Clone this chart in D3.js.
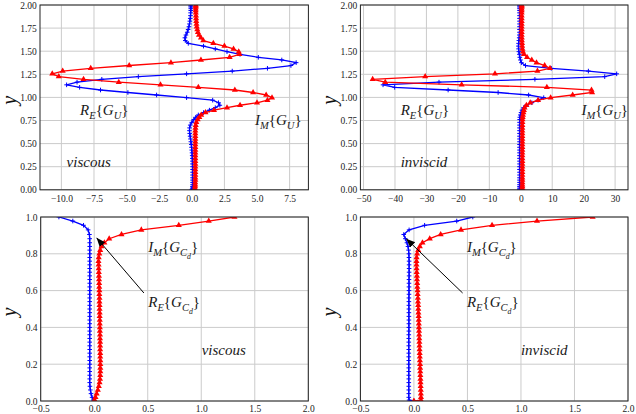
<!DOCTYPE html>
<html><head><meta charset="utf-8">
<script src="https://cdn.jsdelivr.net/npm/d3@7"></script>
<style>
body{margin:0;background:#fff}
svg text{font-family:"Liberation Serif",serif;}
</style>
</head><body>
<svg id="c" width="636" height="414"></svg>
<script>
// ---------- data ----------
// wall-normal grid, top row (y in [0,2])
const yTop = [0, 0.006, 0.018, 0.035, 0.055, 0.08, 0.105, 0.13, 0.16, 0.19,
  0.22, 0.25, 0.28, 0.31, 0.34, 0.37, 0.4, 0.43, 0.46, 0.49,
  0.52, 0.55, 0.58, 0.61, 0.64, 0.67, 0.7, 0.73, 0.76, 0.785,
  0.81, 0.836, 0.862, 0.889, 0.915, 0.942, 0.97, 0.997, 1.026, 1.053,
  1.08, 1.109, 1.136, 1.165, 1.196, 1.225, 1.255, 1.285, 1.315, 1.345,
  1.376, 1.405, 1.434, 1.466, 1.495, 1.525, 1.555, 1.585, 1.615, 1.645,
  1.675, 1.705, 1.735, 1.765, 1.795, 1.825, 1.855, 1.885, 1.915, 1.94,
  1.96, 1.978, 1.99, 2.0];
// viscous R_E{G_U}
const viscousReGU = [0.0, 0.02, 0.04, 0.05, 0.06, 0.06, 0.06, 0.06, 0.06, 0.06,
  0.06, 0.06, 0.05, 0.05, 0.04, 0.03, 0.02, 0.0, -0.02, -0.04,
  -0.07, -0.1, -0.13, -0.16, -0.18, -0.17, -0.12, 0.0, 0.15, 0.3,
  0.5, 0.9, 1.35, 1.8, 2.15, 2.05, 1.6, -0.4, -2.7, -4.9,
  -7.0, -8.6, -9.6, -8.8, -6.9, -4.1, -0.4, 3.1, 5.8, 7.6,
  8.0, 6.9, 5.1, 3.7, 2.7, 1.8, 0.9, -0.27, -0.5, -0.53,
  -0.45, -0.35, -0.28, -0.22, -0.18, -0.15, -0.12, -0.1, -0.09, -0.08,
  -0.08, -0.08, -0.08, -0.08];
// viscous I_M{G_U}
const viscousImGU = [0.2, 0.22, 0.24, 0.25, 0.26, 0.26, 0.27, 0.27, 0.27, 0.27,
  0.27, 0.27, 0.27, 0.27, 0.27, 0.27, 0.27, 0.27, 0.27, 0.27,
  0.27, 0.27, 0.27, 0.27, 0.27, 0.28, 0.3, 0.35, 0.45, 0.58,
  0.72, 1.05, 1.7, 2.7, 3.7, 5.0, 5.8, 6.15, 5.7, 4.7,
  3.3, 0.5, -2.4, -5.6, -8.3, -10.2, -10.7, -9.9, -7.75, -4.8,
  -1.6, 0.7, 2.9, 3.65, 3.6, 3.2, 2.5, 1.65, 0.88, 0.7,
  0.55, 0.47, 0.42, 0.38, 0.36, 0.34, 0.33, 0.32, 0.31, 0.3,
  0.3, 0.3, 0.3, 0.3];
// inviscid R_E{G_U}
const inviscidReGU = [-0.45, -0.42, -0.4, -0.4, -0.4, -0.4, -0.4, -0.4, -0.4, -0.4,
  -0.4, -0.4, -0.4, -0.4, -0.4, -0.4, -0.4, -0.4, -0.4, -0.4,
  -0.4, -0.4, -0.4, -0.4, -0.4, -0.4, -0.4, -0.38, -0.35, -0.3,
  -0.15, 0.1, 0.4, 0.9, 1.8, 3.5, 5.5, 7.3, 2.5, -7.2,
  -23.1, -40.1, -43.8, -26.0, 4.5, 26.7, 30.5, 21.5, 9.7, 1.5,
  0.2, -0.1, -0.3, -0.45, -0.6, -0.7, -0.75, -0.7, -0.6, -0.5,
  -0.45, -0.4, -0.4, -0.4, -0.4, -0.4, -0.4, -0.4, -0.4, -0.4,
  -0.4, -0.4, -0.4, -0.4];
// inviscid I_M{G_U}
const inviscidImGU = [0.45, 0.5, 0.5, 0.5, 0.5, 0.5, 0.5, 0.5, 0.5, 0.5,
  0.5, 0.5, 0.5, 0.5, 0.5, 0.5, 0.5, 0.5, 0.5, 0.5,
  0.5, 0.5, 0.5, 0.5, 0.5, 0.5, 0.5, 0.52, 0.55, 0.6,
  0.7, 0.85, 1.0, 1.2, 1.8, 3.0, 5.5, 9.5, 16.5, 22.7,
  22.5, 8.3, -18.8, -43.1, -47.1, -30.4, -8.2, 5.3, 9.3, 7.6,
  5.0, 3.5, 2.0, 1.0, 0.7, 0.55, 0.45, 0.4, 0.35, 0.33,
  0.3, 0.3, 0.3, 0.3, 0.3, 0.3, 0.3, 0.3, 0.3, 0.3,
  0.3, 0.3, 0.3, 0.3];

// wall-normal grid, bottom row (y in [0,1])
const yBot = [0, 0.005, 0.02, 0.04, 0.06, 0.08, 0.1, 0.12, 0.14, 0.16,
  0.18, 0.2, 0.22, 0.24, 0.26, 0.28, 0.3, 0.32, 0.34, 0.36,
  0.38, 0.4, 0.42, 0.44, 0.46, 0.48, 0.5, 0.52, 0.54, 0.56,
  0.58, 0.6, 0.62, 0.64, 0.66, 0.68, 0.7, 0.72, 0.74, 0.76,
  0.78, 0.8, 0.82, 0.84, 0.86, 0.882, 0.905, 0.93, 0.955, 0.978,
  1.0];
// viscous R_E{G_Cd}
const viscousReGCd = [0.0, -0.008, -0.02, -0.03, -0.036, -0.04, -0.042, -0.042, -0.042, -0.042,
  -0.042, -0.042, -0.042, -0.042, -0.042, -0.042, -0.042, -0.042, -0.042, -0.042,
  -0.042, -0.042, -0.042, -0.042, -0.042, -0.042, -0.042, -0.042, -0.042, -0.042,
  -0.042, -0.042, -0.042, -0.042, -0.042, -0.042, -0.042, -0.042, -0.042, -0.042,
  -0.042, -0.042, -0.042, -0.042, -0.042, -0.042, -0.045, -0.057, -0.1, -0.2,
  -0.33];
// viscous I_M{G_Cd}
const viscousImGCd = [0.0, 0.004, 0.012, 0.023, 0.034, 0.043, 0.05, 0.054, 0.056, 0.057,
  0.057, 0.057, 0.057, 0.056, 0.056, 0.055, 0.055, 0.055, 0.054, 0.054,
  0.053, 0.053, 0.052, 0.052, 0.051, 0.051, 0.05, 0.05, 0.049, 0.049,
  0.048, 0.048, 0.047, 0.046, 0.045, 0.044, 0.043, 0.042, 0.041, 0.04,
  0.042, 0.048, 0.056, 0.068, 0.095, 0.14, 0.255, 0.44, 0.79, 1.07,
  1.31];
// inviscid R_E{G_Cd}
const inviscidReGCd = [0.0, -0.045, -0.048, -0.048, -0.048, -0.048, -0.048, -0.048, -0.048, -0.048,
  -0.048, -0.048, -0.048, -0.048, -0.048, -0.048, -0.048, -0.048, -0.048, -0.048,
  -0.047, -0.047, -0.047, -0.047, -0.047, -0.047, -0.047, -0.047, -0.047, -0.047,
  -0.046, -0.046, -0.046, -0.046, -0.046, -0.045, -0.045, -0.045, -0.045, -0.045,
  -0.046, -0.047, -0.05, -0.055, -0.065, -0.08, -0.095, -0.045, 0.1, 0.4,
  0.55];
// inviscid I_M{G_Cd}
const inviscidImGCd = [0.0, 0.066, 0.066, 0.065, 0.064, 0.063, 0.062, 0.061, 0.06, 0.059,
  0.058, 0.057, 0.056, 0.055, 0.054, 0.053, 0.052, 0.051, 0.05, 0.049,
  0.048, 0.047, 0.046, 0.045, 0.044, 0.042, 0.041, 0.04, 0.038, 0.037,
  0.035, 0.034, 0.032, 0.031, 0.029, 0.028, 0.026, 0.025, 0.024, 0.024,
  0.025, 0.03, 0.04, 0.055, 0.08, 0.148, 0.25, 0.44, 0.73, 1.15,
  1.67];

// tick labels
const xTicksTL = [-10, -7.5, -5, -2.5, 0, 2.5, 5, 7.5];
const xTicksTR = [-50, -40, -30, -20, -10, 0, 10, 20, 30];
const yTicksTop = [0, 0.25, 0.5, 0.75, 1.0, 1.25, 1.5, 1.75, 2.0];
const xTicksBot = [-0.5, 0, 0.5, 1.0, 1.5, 2.0];
const yTicksBot = [0, 0.2, 0.4, 0.6, 0.8, 1.0];

// ---------- drawing ----------
const SERIF = '"Liberation Serif",serif';
const svg = d3.select('#c');
const defs = svg.append('defs');
defs.append('marker').attr('id','arrowhead').attr('viewBox','0 0 10 10')
  .attr('refX',10).attr('refY',5).attr('markerWidth',9).attr('markerHeight',9)
  .attr('markerUnits','userSpaceOnUse').attr('orient','auto')
  .append('path').attr('d','M0,1 L10,5 L0,9 Z').attr('fill','#000');

const SUB_U = [['R',0,1],['E',1,1],['{',0,0],['G',0,1],['U',1,1],['}',0,0]];
const SUB_UI = [['I',0,1],['M',1,1],['{',0,0],['G',0,1],['U',1,1],['}',0,0]];
const SUB_C = [['R',0,1],['E',1,1],['{',0,0],['G',0,1],['C',1,1],['d',2,1],['}',0,0]];
const SUB_CI = [['I',0,1],['M',1,1],['{',0,0],['G',0,1],['C',1,1],['d',2,1],['}',0,0]];

const panels = [
  {left:40, right:308.4, top:5, bottom:189.8, xDom:[-11.64,8.94], yDom:[0,2],
   xTicks:xTicksTL, xFmt:'.1f', yTicks:yTicksTop, yFmt:'.2f', xPad:5.8,
   ys:yTop, re:viscousReGU, im:viscousImGU,
   labels:[{p:SUB_U,x:-8.57,y:0.81},{p:SUB_UI,x:4.85,y:0.70},{t:'viscous',x:-9.6,y:0.25}],
   arrow:null},
  {left:360.4, right:628, top:5, bottom:189.8, xDom:[-51.0,34.1], yDom:[0,2],
   xTicks:xTicksTR, xFmt:'d', yTicks:yTicksTop, yFmt:'.2f', xPad:5.8,
   ys:yTop, re:inviscidReGU, im:inviscidImGU,
   labels:[{p:SUB_U,x:-38.2,y:0.81},{p:SUB_UI,x:19.3,y:0.81},{t:'inviscid',x:-38.2,y:0.25}],
   arrow:null},
  {left:40.7, right:308.3, top:217, bottom:401, xDom:[-0.5,2.0], yDom:[0,1],
   xTicks:xTicksBot, xFmt:'.1f', yTicks:yTicksBot, yFmt:'.1f', xPad:4.4,
   ys:yBot, re:viscousReGCd, im:viscousImGCd,
   labels:[{p:SUB_CI,x:0.505,y:0.81},{p:SUB_C,x:0.505,y:0.511},{t:'viscous',x:1.004,y:0.248}],
   arrow:[[0.464,0.587],[0.022,0.887]]},
  {left:360.4, right:628, top:217, bottom:401, xDom:[-0.5,2.0], yDom:[0,1],
   xTicks:xTicksBot, xFmt:'.1f', yTicks:yTicksBot, yFmt:'.1f', xPad:4.4,
   ys:yBot, re:inviscidReGCd, im:inviscidImGCd,
   labels:[{p:SUB_CI,x:0.495,y:0.81},{p:SUB_C,x:0.495,y:0.511},{t:'inviscid',x:1.0,y:0.25}],
   arrow:[[0.455,0.587],[-0.072,0.882]]}
];

function mathText(g, x, y, parts, size){
  const t = g.append('text').attr('x',x).attr('y',y).style('font-family',SERIF)
    .attr('font-size',size).attr('fill','#1a1a1a');
  let cur = 0;
  parts.forEach(p=>{
    const off = [0, size*0.28, size*0.45][p[1]];
    const fs = [size, size*0.7, size*0.52][p[1]];
    t.append('tspan').attr('dy', off-cur).attr('font-size',fs)
      .style('font-style', p[2] ? 'italic' : 'normal').text(p[0]);
    cur = off;
  });
}

const plusPath = 'M-2.3,0H2.3M0,-2.3V2.3';
const triPath = d3.symbol().type(d3.symbolTriangle).size(16)();

panels.forEach((p,i)=>{
  const x = d3.scaleLinear().domain(p.xDom).range([p.left,p.right]);
  const y = d3.scaleLinear().domain(p.yDom).range([p.bottom,p.top]);
  const g = svg.append('g');
  const cid = 'clip'+i;
  defs.append('clipPath').attr('id',cid).append('rect')
    .attr('x',p.left).attr('y',p.top).attr('width',p.right-p.left).attr('height',p.bottom-p.top);

  // grid
  g.append('g').selectAll('line').data(p.xTicks).join('line')
    .attr('x1',d=>x(d)).attr('x2',d=>x(d)).attr('y1',p.top).attr('y2',p.bottom)
    .attr('stroke','#cbcbcb').attr('stroke-width',1);
  g.append('g').selectAll('line').data(p.yTicks).join('line')
    .attr('y1',d=>y(d)).attr('y2',d=>y(d)).attr('x1',p.left).attr('x2',p.right)
    .attr('stroke','#cbcbcb').attr('stroke-width',1);

  // axes
  const ax = g.append('g').attr('transform',`translate(0,${p.bottom})`)
    .call(d3.axisBottom(x).tickValues(p.xTicks).tickFormat(d3.format(p.xFmt)).tickSize(0).tickPadding(p.xPad));
  const ay = g.append('g').attr('transform',`translate(${p.left},0)`)
    .call(d3.axisLeft(y).tickValues(p.yTicks).tickFormat(d3.format(p.yFmt)).tickSize(0).tickPadding(3.2));
  [ax,ay].forEach(a=>{
    a.attr('font-family',null);
    a.select('.domain').remove();
    a.selectAll('text').style('font-family',SERIF).attr('font-size',9.5).attr('fill','#222');
  });

  // data
  const plot = g.append('g').attr('clip-path',`url(#${cid})`);
  const line = d3.line().x(d=>x(d[0])).y(d=>y(d[1]));
  const reData = d3.zip(p.re, p.ys);
  const imData = d3.zip(p.im, p.ys);
  plot.append('path').datum(reData).attr('d',line).attr('fill','none')
    .attr('stroke','#0000ff').attr('stroke-width',1.3);
  plot.append('g').selectAll('path').data(reData).join('path')
    .attr('transform',d=>`translate(${x(d[0])},${y(d[1])})`).attr('d',plusPath)
    .attr('stroke','#0000ff').attr('stroke-width',1).attr('fill','none');
  plot.append('path').datum(imData).attr('d',line).attr('fill','none')
    .attr('stroke','#ff0000').attr('stroke-width',1.3);
  plot.append('g').selectAll('path').data(imData).join('path')
    .attr('transform',d=>`translate(${x(d[0])},${y(d[1])})`).attr('d',triPath)
    .attr('fill','#ff0000');

  // frame
  g.append('rect').attr('x',p.left).attr('y',p.top).attr('width',p.right-p.left)
    .attr('height',p.bottom-p.top).attr('fill','none').attr('stroke','#222').attr('stroke-width',1);

  // y label
  const yc = (p.top+p.bottom)/2 + 3;
  g.append('text').attr('transform',`translate(${p.left-24.5},${yc}) rotate(-90)`)
    .attr('text-anchor','middle').style('font-family',SERIF).style('font-style','italic')
    .attr('font-size',20).attr('fill','#111').text('y');

  // annotations
  p.labels.forEach(l=>{
    if (l.p) mathText(g, x(l.x), y(l.y), l.p, 15);
    else g.append('text').attr('x',x(l.x)).attr('y',y(l.y)).style('font-family',SERIF)
      .style('font-style','italic').attr('font-size',15).attr('fill','#1a1a1a').text(l.t);
  });
  if (p.arrow){
    g.append('line').attr('x1',x(p.arrow[0][0])).attr('y1',y(p.arrow[0][1]))
      .attr('x2',x(p.arrow[1][0])).attr('y2',y(p.arrow[1][1]))
      .attr('stroke','#000').attr('stroke-width',1).attr('marker-end','url(#arrowhead)');
  }
});
</script>
</body></html>
